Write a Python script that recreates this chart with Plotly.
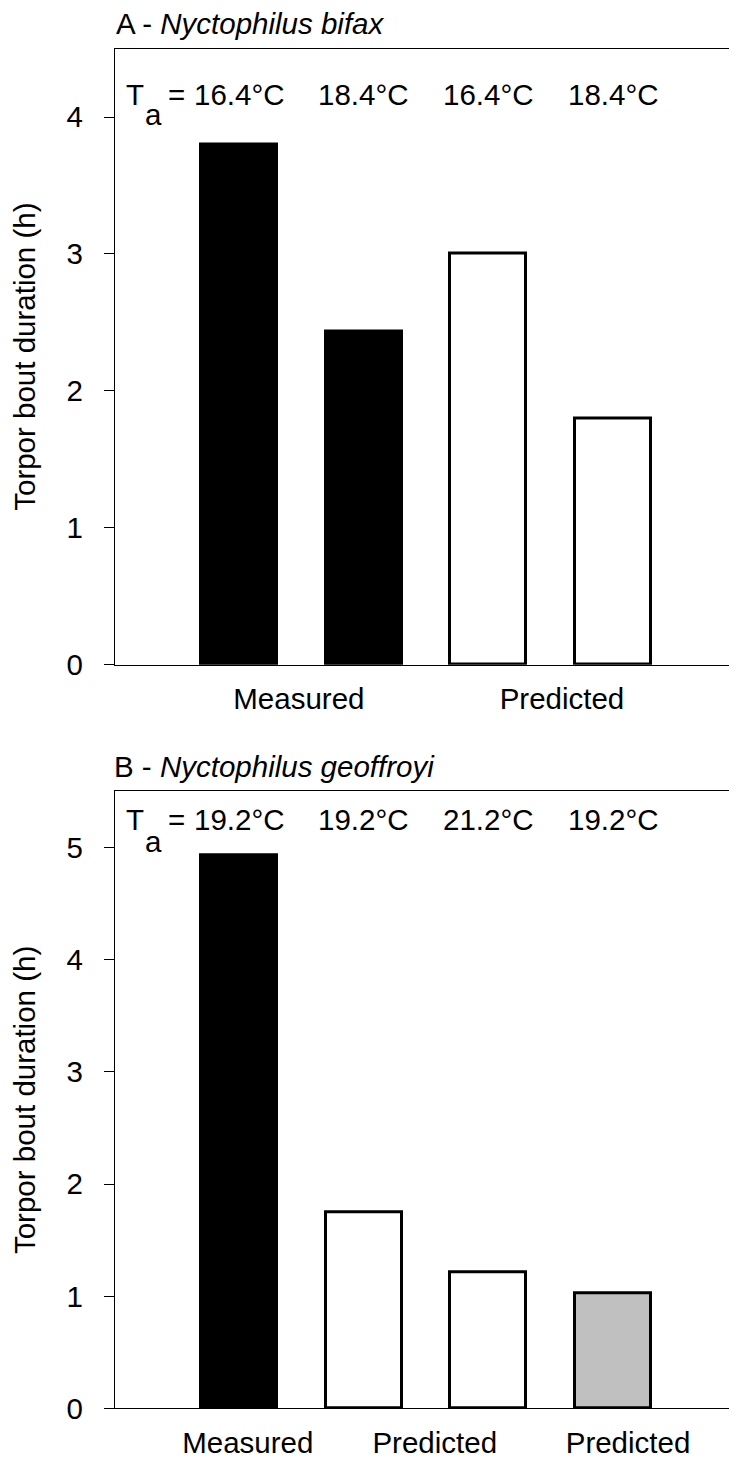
import plotly.graph_objects as go

# ---------------- data ----------------
a_values = [3.80, 2.43, 3.00, 1.80]
a_colors = ["#000000", "#000000", "#ffffff", "#ffffff"]
a_temps = ["16.4°C", "18.4°C", "16.4°C", "18.4°C"]
a_groups = ["Measured", "Predicted"]
a_group_pos = [0.48, 2.59]
a_title = "A - <i>Nyctophilus bifax</i>"
a_yticks = [0, 1, 2, 3, 4]

b_values = [4.93, 1.75, 1.21, 1.03]
b_colors = ["#000000", "#ffffff", "#ffffff", "#c0c0c0"]
b_temps = ["19.2°C", "19.2°C", "21.2°C", "19.2°C"]
b_groups = ["Measured", "Predicted", "Predicted"]
b_group_pos = [0.07, 1.57, 3.12]
b_title = "B - <i>Nyctophilus geoffroyi</i>"
b_yticks = [0, 1, 2, 3, 4, 5]

y_title = "Torpor bout duration (h)"

# ---------------- layout constants ----------------
W, H = 737, 1461
FONT = "Liberation Sans, Arial, sans-serif"
FS = 29.5


def px_x(p):
    return p / W


def px_y(p):
    return 1 - p / H


fig = go.Figure()

fig.add_trace(go.Bar(
    x=list(range(len(a_values))), y=a_values, width=0.61,
    marker=dict(color=a_colors, line=dict(color="#000000", width=3)),
    xaxis="x", yaxis="y", showlegend=False, hoverinfo="skip"))
fig.add_trace(go.Bar(
    x=list(range(len(b_values))), y=b_values, width=0.61,
    marker=dict(color=b_colors, line=dict(color="#000000", width=3)),
    xaxis="x2", yaxis="y2", showlegend=False, hoverinfo="skip"))

xdom = [px_x(107), px_x(727)]
xrange = [-0.9946, 3.978]

common_x = dict(range=xrange, domain=xdom, showline=True, mirror=True,
                linecolor="#000000", linewidth=1.4, showgrid=False,
                zeroline=False, ticks="", tickmode="array",
                tickfont=dict(family=FONT, size=FS, color="#000000"),
                ticklabelstandoff=8)
common_y = dict(showline=True, mirror=True, linecolor="#000000",
                linewidth=1.4, showgrid=False, zeroline=False,
                ticks="outside", ticklen=10, tickwidth=1.4,
                tickcolor="#000000", tickmode="array",
                tickfont=dict(family=FONT, size=FS, color="#000000"),
                ticklabelstandoff=15,
                title=dict(text=y_title, standoff=24,
                           font=dict(family=FONT, size=FS, color="#000000")))

fig.update_layout(
    width=W, height=H,
    margin=dict(l=0, r=0, t=0, b=0),
    paper_bgcolor="#ffffff", plot_bgcolor="#ffffff",
    bargap=0,
    xaxis=dict(common_x, anchor="y", tickvals=a_group_pos, ticktext=a_groups),
    yaxis=dict(common_y, anchor="x", domain=[px_y(664), px_y(41)],
               range=[0, 4.5], tickvals=a_yticks,
               ticktext=[str(v) for v in a_yticks]),
    xaxis2=dict(common_x, anchor="y2", tickvals=b_group_pos, ticktext=b_groups),
    yaxis2=dict(common_y, anchor="x2", domain=[px_y(1416), px_y(792)],
                range=[0, 5.5], tickvals=b_yticks,
                ticktext=[str(v) for v in b_yticks]),
)

ann = []
tf = dict(family=FONT, size=FS, color="#000000")


def add_panel_text(xref, temps, ytemp, ysub, title, title_y, title_x):
    for i, t in enumerate(temps):
        ann.append(dict(x=i, y=px_y(ytemp), xref=xref, yref="paper", text=t,
                        showarrow=False, xanchor="center", yanchor="middle",
                        font=tf))
    ann.append(dict(x=px_x(127), y=px_y(ytemp), xref="paper", yref="paper",
                    text="T", showarrow=False, xanchor="center",
                    yanchor="middle", font=tf))
    ann.append(dict(x=px_x(145), y=px_y(ysub), xref="paper", yref="paper",
                    text="a", showarrow=False, xanchor="center",
                    yanchor="middle", font=tf))
    ann.append(dict(x=px_x(168), y=px_y(ytemp), xref="paper", yref="paper",
                    text="=", showarrow=False, xanchor="center",
                    yanchor="middle", font=tf))
    ann.append(dict(x=px_x(title_x), y=px_y(title_y), xref="paper",
                    yref="paper", text=title, showarrow=False,
                    xanchor="left", yanchor="middle", font=tf))


add_panel_text("x", a_temps, 87, 108, a_title, 16, 106)
add_panel_text("x2", b_temps, 820, 843, b_title, 767, 104)

fig.update_layout(annotations=ann)

fig.write_html("out.html")
